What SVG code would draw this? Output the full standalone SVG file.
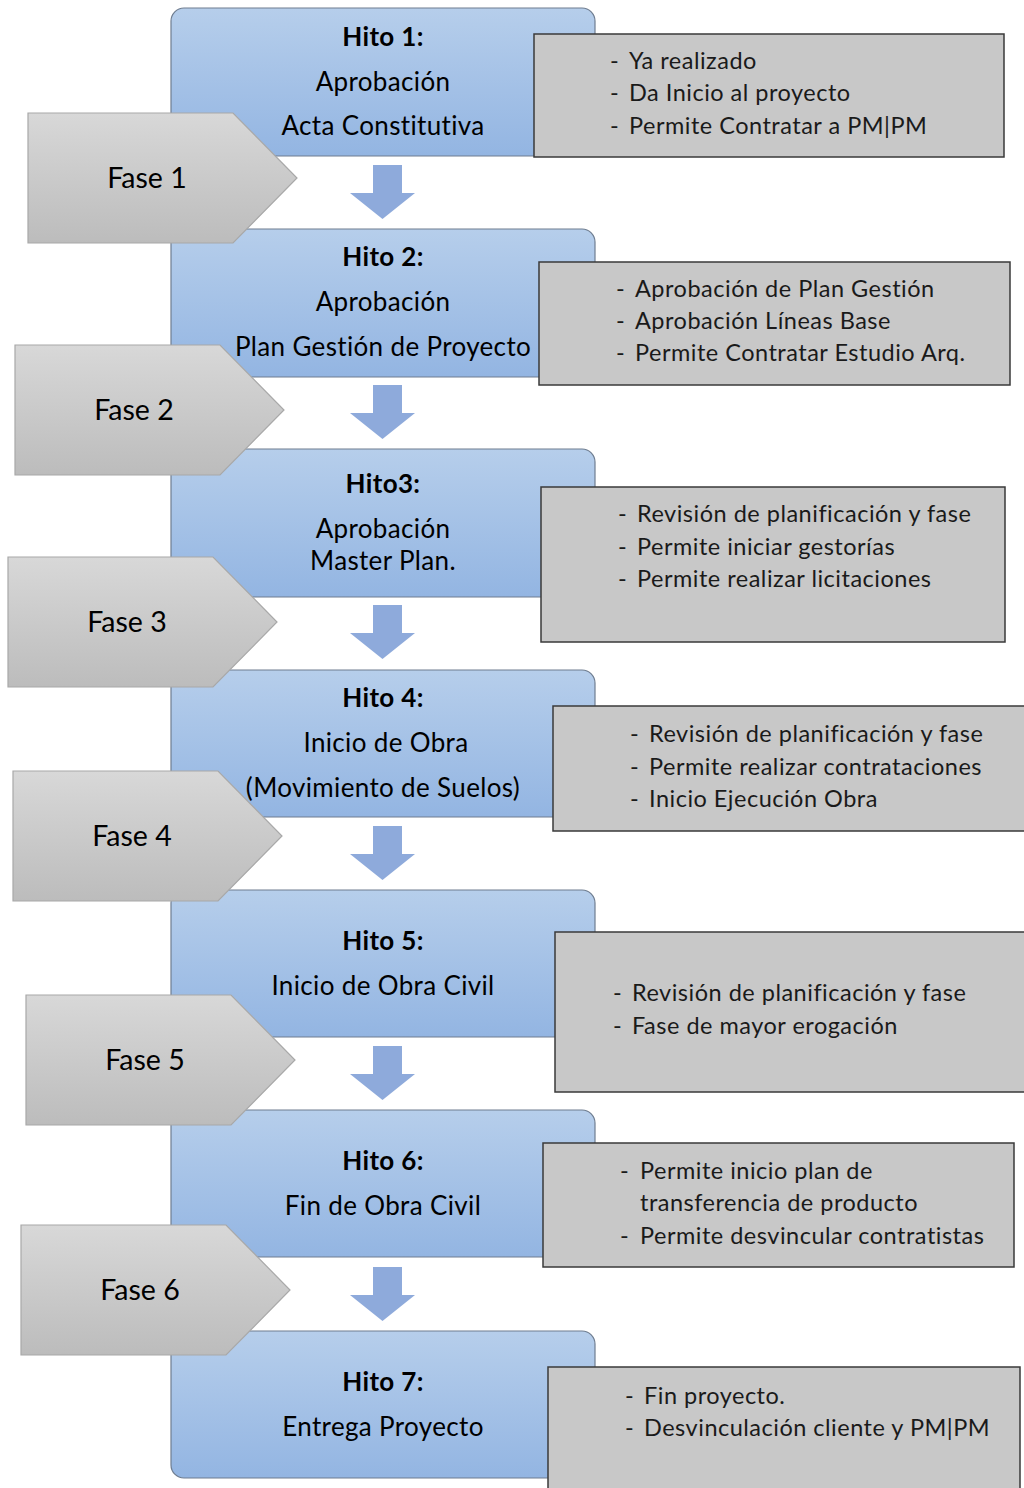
<svg xmlns="http://www.w3.org/2000/svg" width="1024" height="1488" viewBox="0 0 1024 1488">
  <defs>
    <linearGradient id="hitoFill" x1="0" y1="0" x2="0" y2="1">
      <stop offset="0" stop-color="#b6ceeb"/>
      <stop offset="1" stop-color="#93b5e2"/>
    </linearGradient>
    <linearGradient id="faseFill" x1="0" y1="0" x2="0" y2="1">
      <stop offset="0" stop-color="#d8d8d8"/>
      <stop offset="1" stop-color="#bcbcbc"/>
    </linearGradient>
    <!-- phase tag: pentagon pointing right, origin at top-left -->
    <path id="faseShape" d="M0 0 H205 L269 65 L205 130 H0 Z"/>
    <!-- downward block arrow, origin at shaft top-left -->
    <path id="downArrow" d="M373 0 H402 V28 H415 L382.5 54 L350 28 H373 Z"/>
  </defs>
  <style>
    .hito { fill: url(#hitoFill); stroke: #6f7d90; stroke-width: 1.2; }
    .fase { fill: url(#faseFill); stroke: #a8a8a8; stroke-width: 1.2; }
    .note { fill: #c8c8c8; stroke: #3a3a3a; stroke-width: 1.5; }
    .arrow { fill: #8eaadb; }
    text { font-family: Lato, "Noto Sans", "Liberation Sans", sans-serif; fill: #000; }
    .ht { font-size: 26px; letter-spacing: 0.35px; text-anchor: middle; }
    .hb { font-weight: bold; }
    .ft { font-size: 28.5px; text-anchor: middle; }
    .nt { font-size: 23.5px; letter-spacing: 0.5px; fill: #1a1a1a; }
  </style>

  <!-- milestone boxes -->
  <g id="hito1"><rect class="hito" x="171" y="8" width="424" height="148" rx="13"/>
    <text class="ht hb" x="383" y="46">Hito 1:</text>
    <text class="ht" x="383" y="91">Aprobación</text>
    <text class="ht" x="383" y="135">Acta Constitutiva</text></g>
  <g id="hito2"><rect class="hito" x="171" y="229" width="424" height="148" rx="13"/>
    <text class="ht hb" x="383" y="266">Hito 2:</text>
    <text class="ht" x="383" y="311">Aprobación</text>
    <text class="ht" x="383" y="356">Plan Gestión de Proyecto</text></g>
  <g id="hito3"><rect class="hito" x="171" y="449" width="424" height="148" rx="13"/>
    <text class="ht hb" x="383" y="493">Hito3:</text>
    <text class="ht" x="383" y="538">Aprobación</text>
    <text class="ht" x="383" y="570">Master Plan.</text></g>
  <g id="hito4"><rect class="hito" x="171" y="670" width="424" height="147" rx="13"/>
    <text class="ht hb" x="383" y="707">Hito 4:</text>
    <text class="ht" x="386" y="752">Inicio de Obra</text>
    <text class="ht" x="383" y="797">(Movimiento de Suelos)</text></g>
  <g id="hito5"><rect class="hito" x="171" y="890" width="424" height="147" rx="13"/>
    <text class="ht hb" x="383" y="950">Hito 5:</text>
    <text class="ht" x="383" y="995">Inicio de Obra Civil</text></g>
  <g id="hito6"><rect class="hito" x="171" y="1110" width="424" height="147" rx="13"/>
    <text class="ht hb" x="383" y="1170">Hito 6:</text>
    <text class="ht" x="383" y="1215">Fin de Obra Civil</text></g>
  <g id="hito7"><rect class="hito" x="171" y="1331" width="424" height="147" rx="13"/>
    <text class="ht hb" x="383" y="1391">Hito 7:</text>
    <text class="ht" x="383" y="1436">Entrega Proyecto</text></g>

  <!-- connectors between milestones -->
  <g id="connectors">
    <use href="#downArrow" class="arrow" y="165"/>
    <use href="#downArrow" class="arrow" y="385"/>
    <use href="#downArrow" class="arrow" y="605"/>
    <use href="#downArrow" class="arrow" y="826"/>
    <use href="#downArrow" class="arrow" y="1046"/>
    <use href="#downArrow" class="arrow" y="1267"/>
  </g>

  <!-- phase tags -->
  <g id="fase1"><use href="#faseShape" class="fase" x="28" y="113"/>
    <text class="ft" x="147" y="188">Fase 1</text></g>
  <g id="fase2"><use href="#faseShape" class="fase" x="15" y="345"/>
    <text class="ft" x="134" y="420">Fase 2</text></g>
  <g id="fase3"><use href="#faseShape" class="fase" x="8" y="557"/>
    <text class="ft" x="127" y="632">Fase 3</text></g>
  <g id="fase4"><use href="#faseShape" class="fase" x="13" y="771"/>
    <text class="ft" x="132" y="846">Fase 4</text></g>
  <g id="fase5"><use href="#faseShape" class="fase" x="26" y="995"/>
    <text class="ft" x="145" y="1070">Fase 5</text></g>
  <g id="fase6"><use href="#faseShape" class="fase" x="21" y="1225"/>
    <text class="ft" x="140" y="1300">Fase 6</text></g>

  <!-- notes -->
  <g id="nota1"><rect class="note" x="534" y="34" width="470" height="123"/>
    <text class="nt" x="610" y="69">-</text><text class="nt" x="629" y="69">Ya realizado</text>
    <text class="nt" x="610" y="101">-</text><text class="nt" x="629" y="101">Da Inicio al proyecto</text>
    <text class="nt" x="610" y="134">-</text><text class="nt" x="629" y="134">Permite Contratar a PM|PM</text></g>
  <g id="nota2"><rect class="note" x="539" y="262" width="471" height="123"/>
    <text class="nt" x="616" y="297">-</text><text class="nt" x="635" y="297">Aprobación de Plan Gestión</text>
    <text class="nt" x="616" y="329">-</text><text class="nt" x="635" y="329">Aprobación Líneas Base</text>
    <text class="nt" x="616" y="361">-</text><text class="nt" x="635" y="361">Permite Contratar Estudio Arq.</text></g>
  <g id="nota3"><rect class="note" x="541" y="487" width="464" height="155"/>
    <text class="nt" x="618" y="522">-</text><text class="nt" x="637" y="522">Revisión de planificación y fase</text>
    <text class="nt" x="618" y="555">-</text><text class="nt" x="637" y="555">Permite iniciar gestorías</text>
    <text class="nt" x="618" y="587">-</text><text class="nt" x="637" y="587">Permite realizar licitaciones</text></g>
  <g id="nota4"><rect class="note" x="553" y="706" width="475" height="125"/>
    <text class="nt" x="630" y="742">-</text><text class="nt" x="649" y="742">Revisión de planificación y fase</text>
    <text class="nt" x="630" y="775">-</text><text class="nt" x="649" y="775">Permite realizar contrataciones</text>
    <text class="nt" x="630" y="807">-</text><text class="nt" x="649" y="807">Inicio Ejecución Obra</text></g>
  <g id="nota5"><rect class="note" x="555" y="932" width="473" height="160"/>
    <text class="nt" x="613" y="1001">-</text><text class="nt" x="632" y="1001">Revisión de planificación y fase</text>
    <text class="nt" x="613" y="1034">-</text><text class="nt" x="632" y="1034">Fase de mayor erogación</text></g>
  <g id="nota6"><rect class="note" x="543" y="1143" width="471" height="124"/>
    <text class="nt" x="620" y="1179">-</text><text class="nt" x="640" y="1179">Permite inicio plan de</text>
    <text class="nt" x="640" y="1211">transferencia de producto</text>
    <text class="nt" x="620" y="1244">-</text><text class="nt" x="640" y="1244">Permite desvincular contratistas</text></g>
  <g id="nota7"><rect class="note" x="548" y="1367" width="472" height="130"/>
    <text class="nt" x="625" y="1404">-</text><text class="nt" x="644" y="1404">Fin proyecto.</text>
    <text class="nt" x="625" y="1436">-</text><text class="nt" x="644" y="1436">Desvinculación cliente y PM|PM</text></g>
</svg>
